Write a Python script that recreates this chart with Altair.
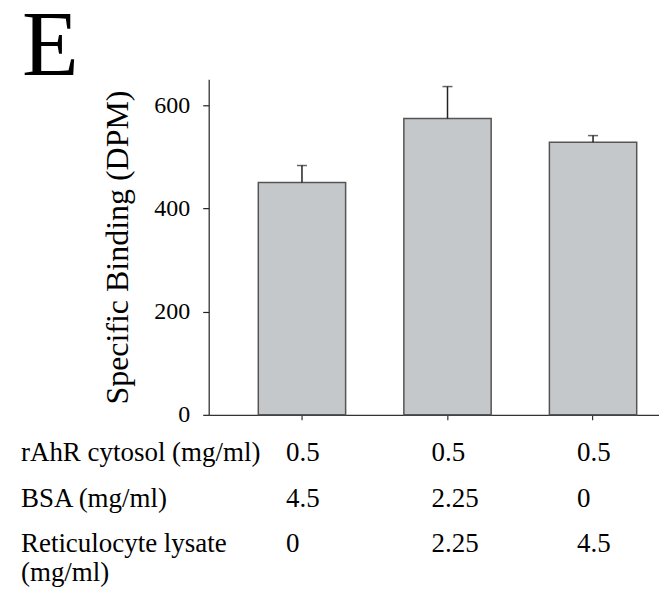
import altair as alt
import pandas as pd

FONT = "Liberation Serif"

groups = ["1", "2", "3"]
binding = [450, 574, 528]
sem = [33, 62, 13]

row_labels = ["rAhR cytosol (mg/ml)", "BSA (mg/ml)", "Reticulocyte lysate", "(mg/ml)"]
rahr = ["0.5", "0.5", "0.5"]
bsa = ["4.5", "2.25", "0"]
retic = ["0", "2.25", "4.5"]
panel_letter = "E"

df = pd.DataFrame({"group": groups, "binding": binding, "sem": sem})
df["upper"] = df["binding"] + df["sem"]

xscale = alt.Scale(domain=groups, paddingInner=0.4, paddingOuter=0.247, align=0.69)
x_enc = alt.X(
    "group:N",
    scale=xscale,
    axis=alt.Axis(
        labels=False, title=None, domainColor="#333333", tickColor="#333333",
        tickSize=5, domainWidth=1.2, tickWidth=1.2,
    ),
)
y_enc = alt.Y(
    "binding:Q",
    scale=alt.Scale(domain=[0, 650], nice=False),
    axis=alt.Axis(
        values=[0, 200, 400, 600], title="Specific Binding (DPM)", grid=False,
        labelFont=FONT, labelFontSize=24, labelColor="black", labelPadding=13,
        tickSize=6, tickColor="#222222", domainColor="#222222", domainWidth=1.2, tickWidth=1.2,
        titleFont=FONT, titleFontSize=32, titleFontWeight="normal", titleColor="black",
        titleX=-81, titleY=168, titleBaseline="alphabetic", titleAngle=270,
    ),
)

bars = alt.Chart(df).mark_bar(fill="#c5c8ca", stroke="#555555", strokeWidth=1.5).encode(
    x=x_enc, y=y_enc
)
err = alt.Chart(df).mark_rule(color="#222222", strokeWidth=1.5).encode(
    x=alt.X("group:N", scale=xscale), y="binding:Q", y2="upper:Q"
)
cap = alt.Chart(df).mark_tick(color="#222222", thickness=1.5, size=10, orient="horizontal").encode(
    x=alt.X("group:N", scale=xscale), y="upper:Q"
)

layers = [bars, err, cap]

row_y = [382, 428, 473, 502]
row_values = [rahr, bsa, retic, None]
for i, lab in enumerate(row_labels):
    ldf = pd.DataFrame({"label": [lab]})
    layers.append(
        alt.Chart(ldf).mark_text(
            align="left", baseline="alphabetic", font=FONT, fontSize=27, color="black"
        ).encode(text="label:N", x=alt.value(-188), y=alt.value(row_y[i]))
    )
    vals = row_values[i]
    if vals is not None:
        vdf = pd.DataFrame({"group": groups, "val": vals})
        layers.append(
            alt.Chart(vdf).mark_text(
                align="left", baseline="alphabetic", font=FONT, fontSize=27, color="black", dx=-16
            ).encode(
                x=alt.X("group:N", scale=xscale), text="val:N", y=alt.value(row_y[i])
            )
        )

edf = pd.DataFrame({"label": [panel_letter]})
layers.append(
    alt.Chart(edf).mark_text(
        align="left", baseline="alphabetic", font=FONT, fontSize=93, color="black"
    ).encode(text="label:N", x=alt.value(-187), y=alt.value(-4))
)

chart = alt.layer(*layers).properties(
    width=451,
    height=336,
    padding={"left": 201, "top": 71, "right": 0, "bottom": 172},
    autosize=alt.AutoSizeParams(type="none"),
    background="white",
).configure_view(stroke=None)

chart.save("out.html", embed_options={"renderer": "svg", "actions": False})
